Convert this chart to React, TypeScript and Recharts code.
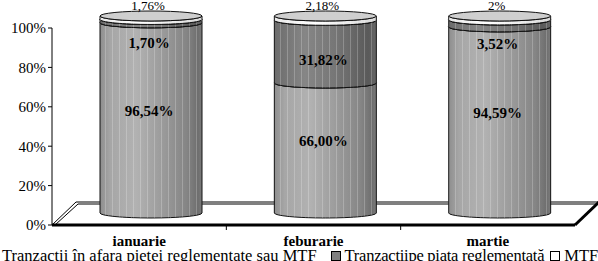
import React from 'react';
import { BarChart, Bar, XAxis, YAxis, Legend, LabelList } from 'recharts';

const months = ['ianuarie', 'feburarie', 'martie'];
const offMarket = [96.54, 66.0, 94.59];
const regulated = [1.7, 31.82, 3.52];
const mtf = [1.76, 2.18, 2];
const yTicks = [0, 0.2, 0.4, 0.6, 0.8, 1];

const seriesNames = [
  'Tranzactii în afara pietei reglementate sau MTF',
  'Tranzactiipe piata reglementată',
  'MTF',
];

const data = months.map((name, i) => ({
  name,
  offMarket: offMarket[i],
  regulated: regulated[i],
  mtf: mtf[i],
}));

const W = 598;
const H = 261;
const FONT = 'Liberation Serif, Tinos, Times New Roman, DejaVu Serif, serif';
const PLOT_L = 52;
const PLOT_R = 575;
const PLOT_B = 225;
// 3d depth of the floor, cylinders sit half way back
const DEPTH_X = 24;
const DEPTH_Y = -23;
const DX = 12;
const DY = -12;
const RY = 5;

// inner labels keep two decimals, the top labels drop trailing zeros
const fmt2 = (v: number) => `${v.toFixed(2).replace('.', ',')}%`;
const fmtShort = (v: number) => `${String(Number(v.toFixed(2))).replace('.', ',')}%`;

const cylinder = (fillId: string, topFill: string) => (props: any) => {
  const { x, y, width, height } = props;
  if (!height || height <= 0) return <g />;
  const x0 = x + DX;
  const yt = y + DY;
  const yb = y + height + DY;
  const rx = width / 2;
  const body = `M${x0},${yt} L${x0},${yb} A${rx},${RY} 0 0 0 ${x0 + width},${yb} L${x0 + width},${yt} A${rx},${RY} 0 0 1 ${x0},${yt} Z`;
  return (
    <g>
      <path d={body} fill={`url(#${fillId})`} stroke="#111" strokeWidth={1} />
      <path d={body} fill="url(#stripes)" stroke="none" />
      <ellipse cx={x0 + rx} cy={yt} rx={rx} ry={RY} fill={topFill} stroke="#111" strokeWidth={1} />
    </g>
  );
};

const innerLabel = (kind: 'bottom' | 'middle') => (props: any) => {
  const { x, y, width, height, value } = props;
  const cx = x + width / 2 + DX - 2;
  let cy = y + height / 2 + DY - 7;
  if (kind === 'middle') cy = Math.max(y + height / 2 + DY + 8, y + DY + 24);
  return (
    <text x={cx} y={cy} textAnchor="middle" dominantBaseline="central"
      fontFamily={FONT} fontSize={15} fontWeight="bold" fill="#000">
      {fmt2(Number(value))}
    </text>
  );
};

const topLabel = (props: any) => {
  const { x, y, width, value } = props;
  return (
    <text x={x + width / 2 + DX - 3} y={y + DY - 11} textAnchor="middle" dominantBaseline="central"
      fontFamily={FONT} fontSize={13} fill="#000">
      {fmtShort(Number(value))}
    </text>
  );
};

const CategoryTick = (props: any) => {
  const { x, y, payload } = props;
  return (
    <text x={x} y={y} dy={13} textAnchor="middle" fontFamily={FONT} fontSize={15} fontWeight="bold" fill="#000">
      {payload.value}
    </text>
  );
};

const swatches = ['#9a9a9a', '#808080', '#ffffff'];
const legendGaps = [14, 6, 0];

const LegendContent = () => (
  <div style={{ display: 'flex', whiteSpace: 'nowrap', fontFamily: FONT, fontSize: 16.5, lineHeight: '14px', color: '#000' }}>
    {seriesNames.map((label, i) => (
      <div key={i} style={{ display: 'flex', alignItems: 'center', marginRight: legendGaps[i] }}>
        <span style={{ width: 8, height: 8, border: '1px solid #000', background: swatches[i], marginRight: 4, display: 'inline-block' }} />
        <span style={{ letterSpacing: i === 1 ? -0.25 : 0 }}>{label}</span>
      </div>
    ))}
  </div>
);

const Floor = () => {
  const band = (PLOT_R - PLOT_L) / months.length;
  const boundaries = months.slice(1).map((_, i) => PLOT_L + band * (i + 1));
  return (
    <svg width={W} height={H} style={{ position: 'absolute', left: 0, top: 0 }}>
      <polygon
        points={`${PLOT_L},${PLOT_B} ${PLOT_R},${PLOT_B} ${PLOT_R + DEPTH_X},${PLOT_B + DEPTH_Y} ${PLOT_L + DEPTH_X},${PLOT_B + DEPTH_Y}`}
        fill="#fff" stroke="#000" strokeWidth={1}
      />
      <polyline
        points={`${PLOT_L + 3},${PLOT_B} ${PLOT_L + DEPTH_X + 2},${PLOT_B + DEPTH_Y + 2} ${W},${PLOT_B + DEPTH_Y + 2}`}
        fill="none" stroke="#000" strokeWidth={1}
      />
      <line x1={PLOT_L} y1={PLOT_B} x2={PLOT_R} y2={PLOT_B} stroke="#000" strokeWidth={3} />
      <line x1={PLOT_R} y1={PLOT_B} x2={PLOT_R + DEPTH_X} y2={PLOT_B + DEPTH_Y} stroke="#000" strokeWidth={3} />
      {boundaries.map((bx, i) => (
        <line key={i} x1={bx} y1={PLOT_B} x2={bx} y2={PLOT_B + 5} stroke="#000" strokeWidth={1} />
      ))}
    </svg>
  );
};

export default function App() {
  return (
    <div style={{ position: 'relative', width: W, height: H, background: '#fff', overflow: 'hidden' }}>
      <style>{'body{margin:0}'}</style>
      <Floor />
      <div style={{ position: 'absolute', left: 0, top: 0 }}>
        <BarChart
          width={W}
          height={H}
          data={data}
          stackOffset="expand"
          barSize={102}
          margin={{ top: 28, right: W - PLOT_R, bottom: 16, left: 0 }}
        >
          <defs>
            <linearGradient id="gOff" x1="0" y1="0" x2="1" y2="0">
              <stop offset="0" stopColor="#8e8e8e" />
              <stop offset="0.1" stopColor="#a6a6a6" />
              <stop offset="0.35" stopColor="#b2b2b2" />
              <stop offset="0.6" stopColor="#9c9c9c" />
              <stop offset="0.85" stopColor="#858585" />
              <stop offset="0.96" stopColor="#6e6e6e" />
              <stop offset="1" stopColor="#7c7c7c" />
            </linearGradient>
            <linearGradient id="gReg" x1="0" y1="0" x2="1" y2="0">
              <stop offset="0" stopColor="#6c6c6c" />
              <stop offset="0.3" stopColor="#868686" />
              <stop offset="0.6" stopColor="#767676" />
              <stop offset="0.92" stopColor="#5a5a5a" />
              <stop offset="1" stopColor="#666" />
            </linearGradient>
            <linearGradient id="gMtf" x1="0" y1="0" x2="1" y2="0">
              <stop offset="0" stopColor="#e8e8e8" />
              <stop offset="0.4" stopColor="#ffffff" />
              <stop offset="1" stopColor="#d8d8d8" />
            </linearGradient>
            <pattern id="stripes" width="7" height="10" patternUnits="userSpaceOnUse">
              <rect x="0" y="0" width="1" height="10" fill="#fff" opacity="0.22" />
            </pattern>
          </defs>
          <XAxis dataKey="name" axisLine={false} tickLine={false} height={20} interval={0} tick={<CategoryTick />} />
          <YAxis
            type="number"
            domain={[0, 1]}
            ticks={yTicks}
            width={PLOT_L}
            tickFormatter={(v: number) => `${Math.round(v * 100)}%`}
            axisLine={{ stroke: '#000' }}
            tickLine={{ stroke: '#000' }}
            tickSize={4}
            tickMargin={2}
            tick={{ fill: '#000', fontSize: 15, fontFamily: FONT }}
          />
          <Legend
            layout="horizontal"
            verticalAlign="middle"
            align="center"
            wrapperStyle={{ left: -12, top: 249, width: 700 }}
            content={<LegendContent />}
          />
          <Bar dataKey="offMarket" name={seriesNames[0]} stackId="s" fill={swatches[0]}
            shape={cylinder('gOff', '#bbb')} isAnimationActive={false}>
            <LabelList dataKey="offMarket" content={innerLabel('bottom')} />
          </Bar>
          <Bar dataKey="regulated" name={seriesNames[1]} stackId="s" fill={swatches[1]}
            shape={cylinder('gReg', '#999')} isAnimationActive={false}>
            <LabelList dataKey="regulated" content={innerLabel('middle')} />
          </Bar>
          <Bar dataKey="mtf" name={seriesNames[2]} stackId="s" fill={swatches[2]}
            shape={cylinder('gMtf', '#cfcfcf')} isAnimationActive={false}>
            <LabelList dataKey="mtf" content={topLabel} />
          </Bar>
        </BarChart>
      </div>
    </div>
  );
}
